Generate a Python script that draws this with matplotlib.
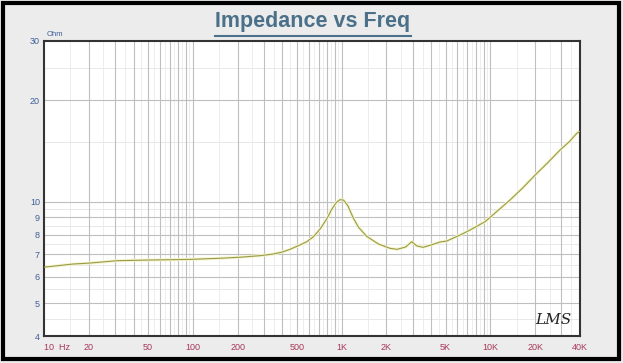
import matplotlib
matplotlib.use("Agg")
import matplotlib.pyplot as plt
from matplotlib.patches import Rectangle

# Data (frequency in Hz, impedance in Ohm)
freq = [10, 15.7, 20, 31, 50, 96, 150, 207, 280, 346, 400, 450, 525, 585, 650,
        716, 795, 858, 920, 975, 1030, 1100, 1199, 1300, 1475, 1766, 2115, 2360,
        2700, 2960, 3200, 3525, 4000, 4580, 5080, 6250, 7300, 9200, 11000,
        13550, 16500, 19950, 24000, 29400, 34000, 38000, 40000]
imp = [6.40, 6.54, 6.58, 6.69, 6.72, 6.75, 6.80, 6.85, 6.92, 7.00, 7.10, 7.23,
       7.45, 7.62, 7.90, 8.30, 8.90, 9.50, 9.95, 10.15, 10.12, 9.75, 8.95, 8.40,
       7.90, 7.50, 7.28, 7.23, 7.35, 7.62, 7.40, 7.33, 7.45, 7.60, 7.65, 7.97,
       8.25, 8.73, 9.35, 10.13, 11.0, 12.0, 13.0, 14.25, 15.1, 15.96, 16.20]

xticks = [10, 20, 50, 100, 200, 500, 1000, 2000, 5000, 10000, 20000, 40000]
xlabels = ["10  Hz", "20", "50", "100", "200", "500", "1K", "2K", "5K", "10K", "20K", "40K"]
yticks = [4, 5, 6, 7, 8, 9, 10, 20, 30]
ylabels = ["4", "5", "6", "7", "8", "9", "10", "20", "30"]

fig = plt.figure(figsize=(6.23, 3.63), dpi=100)
fig.patch.set_facecolor("#ececec")
plt.rcParams['font.family'] = ['Liberation Sans', 'DejaVu Sans']

ax = fig.add_axes([44/623, 27/363, 536/623, 295/363])
ax.set_facecolor("white")
ax.set_xscale("log")
ax.set_yscale("log")
ax.set_xlim(10, 40000)
ax.set_ylim(4, 30)

# grid lines
major_v = []
minor_v = []
for dec in [10, 100, 1000, 10000]:
    for m in range(1, 10):
        major_v.append(dec * m)
        minor_v.append(dec * (m + 0.5))
for v in minor_v:
    if v < 40000:
        ax.axvline(v, color="#ededed", lw=0.7, zorder=0)
for v in major_v:
    if 10 < v < 40000:
        ax.axvline(v, color="#bfbfbf", lw=0.8, zorder=1)
minor_h = [4.5, 5.5, 6.5, 7.5, 8.5, 9.5, 15, 25]
for h in minor_h:
    ax.axhline(h, color="#e8e8e8", lw=0.7, zorder=0)
for h in yticks[1:-1]:
    ax.axhline(h, color="#bfbfbf", lw=0.8, zorder=1)

ax.plot(freq, imp, color="#f5f5cc", lw=2.2, zorder=2, solid_capstyle="round")
ax.plot(freq, imp, color="#9a9a4a", lw=0.8, zorder=3)

ax.set_xticks(xticks)
ax.set_xticklabels(xlabels)
ax.set_yticks(yticks)
ax.set_yticklabels(ylabels)
ax.minorticks_off()
ax.tick_params(axis="x", length=0, pad=5, labelsize=6.5, labelcolor="#a8385a")
ax.tick_params(axis="y", length=0, pad=3, labelsize=6.5, labelcolor="#3f5f99")
for lab in ax.get_xticklabels():
    lab.set_horizontalalignment("left" if lab.get_text().startswith("10 ") else "center")
for s in ax.spines.values():
    s.set_color("#333333")
    s.set_linewidth(1.5)

ax.text(0.005, 1.01, "Ohm", transform=ax.transAxes, fontsize=5.5, color="#3f5f99",
        ha="left", va="bottom")
ax.text(0.985, 0.03, "LMS", transform=ax.transAxes, fontsize=11, color="#222222",
        ha="right", va="bottom", style="italic", family="DejaVu Serif")

fig.text(313/623, 1 - 22/363, "Impedance vs Freq", ha="center", va="center",
         fontsize=15.5, fontweight="bold", color="#4b7089")
fig.add_artist(plt.Line2D([215/623, 411/623], [1 - 36/363, 1 - 36/363],
                          color="#4b7089", lw=1.5))

fig.add_artist(Rectangle((3/623, 4/363), 616/623, 356/363, transform=fig.transFigure,
                         fill=False, edgecolor="black", lw=3))

fig.savefig("out.png", dpi=100, facecolor=fig.get_facecolor())
